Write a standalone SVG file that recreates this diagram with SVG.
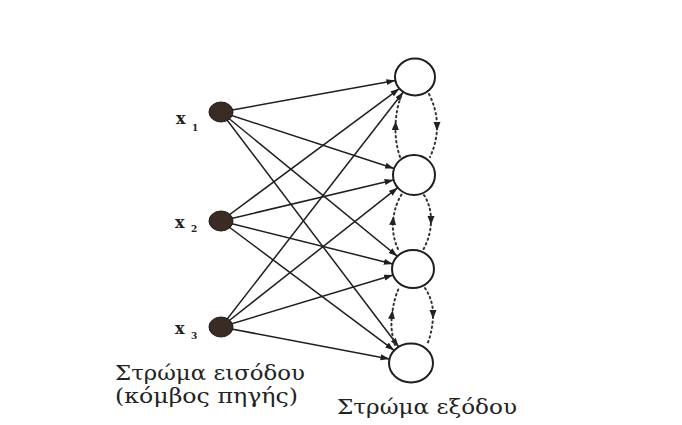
<svg xmlns="http://www.w3.org/2000/svg" width="682" height="425" viewBox="0 0 682 425">
<style>
.edge{stroke:#1e1e1e;stroke-width:1.5;fill:none;marker-end:url(#ah)}
.dot{stroke:#333;stroke-width:2;fill:none;stroke-dasharray:1.5 3.5;stroke-linecap:round;marker-mid:url(#am)}
.in{fill:#3a2b24;stroke:#1e1a18;stroke-width:1}
.out{fill:#fff;stroke:#1e1e1e;stroke-width:2}
.lbl{font-family:"DejaVu Serif","Liberation Serif",serif;font-weight:bold;fill:#222}
.cap{font-family:"DejaVu Serif","Liberation Serif",serif;font-size:20px;fill:#222}
</style>
<defs>
<marker id="ah" markerUnits="userSpaceOnUse" markerWidth="10" markerHeight="8" refX="9" refY="3" orient="auto">
<path d="M0,0 L9,3 L0,6 Z" fill="#1e1e1e"/>
</marker>
<marker id="am" markerUnits="userSpaceOnUse" markerWidth="10" markerHeight="10" refX="4" refY="3.5" orient="auto">
<path d="M0,0 L9,3.5 L0,7 Z" fill="#222"/>
</marker>
</defs>
<rect width="682" height="425" fill="#fff"/>
<g id="connectors">
<path class="edge" d="M221,112 L395.4,80.5"/>
<path class="edge" d="M221,112 L394.1,168.5"/>
<path class="edge" d="M221,112 L397.4,256.3"/>
<path class="edge" d="M221,112 L398.7,346.8"/>
<path class="edge" d="M221,221 L399.4,88.6"/>
<path class="edge" d="M221,221 L393.6,179.9"/>
<path class="edge" d="M221,221 L392.8,263.9"/>
<path class="edge" d="M221,221 L394.2,350.4"/>
<path class="edge" d="M221,327 L403.3,92"/>
<path class="edge" d="M221,327 L397.8,187.7"/>
<path class="edge" d="M221,327 L393.1,275"/>
<path class="edge" d="M221,327 L389.5,358.9"/>
<path class="dot" d="M400,157 Q395,142 395.5,126 Q396,108 402,94"/>
<path class="dot" d="M429,94 Q437,110 437,126 Q437,142 430,157"/>
<path class="dot" d="M398,249 Q392,236 393,221 Q395,204 402,194"/>
<path class="dot" d="M424,195 Q431,206 431,220 Q431,236 423,250"/>
<path class="dot" d="M395,345 Q390,330 392,315 Q394,298 399,288"/>
<path class="dot" d="M425,288 Q433,300 433,314 Q433,330 427,345"/>
</g>
<g id="x1"><ellipse class="in" cx="221" cy="112" rx="12" ry="10"/><text class="lbl" x="176" y="124" font-size="16">x</text><text class="lbl" x="192" y="131" font-size="9">1</text></g>
<g id="x2"><ellipse class="in" cx="221" cy="221" rx="12" ry="10"/><text class="lbl" x="175" y="228" font-size="16">x</text><text class="lbl" x="191" y="232" font-size="9">2</text></g>
<g id="x3"><ellipse class="in" cx="221" cy="327" rx="12" ry="10"/><text class="lbl" x="175" y="334" font-size="16">x</text><text class="lbl" x="191" y="339" font-size="9">3</text></g>
<g id="o1"><ellipse class="out" cx="415" cy="77" rx="20" ry="18.5"/></g>
<g id="o2"><ellipse class="out" cx="414" cy="175" rx="21" ry="20"/></g>
<g id="o3"><ellipse class="out" cx="413" cy="269" rx="21" ry="19"/></g>
<g id="o4"><ellipse class="out" cx="411" cy="363" rx="22" ry="19.5"/></g>
<g id="labels">
<text class="cap" x="115" y="380" textLength="190" lengthAdjust="spacingAndGlyphs">Στρώμα εισόδου</text>
<text class="cap" x="115" y="403" textLength="183" lengthAdjust="spacingAndGlyphs">(κόμβος πηγής)</text>
<text class="cap" x="337" y="414" textLength="180" lengthAdjust="spacingAndGlyphs">Στρώμα εξόδου</text>
</g>
</svg>
